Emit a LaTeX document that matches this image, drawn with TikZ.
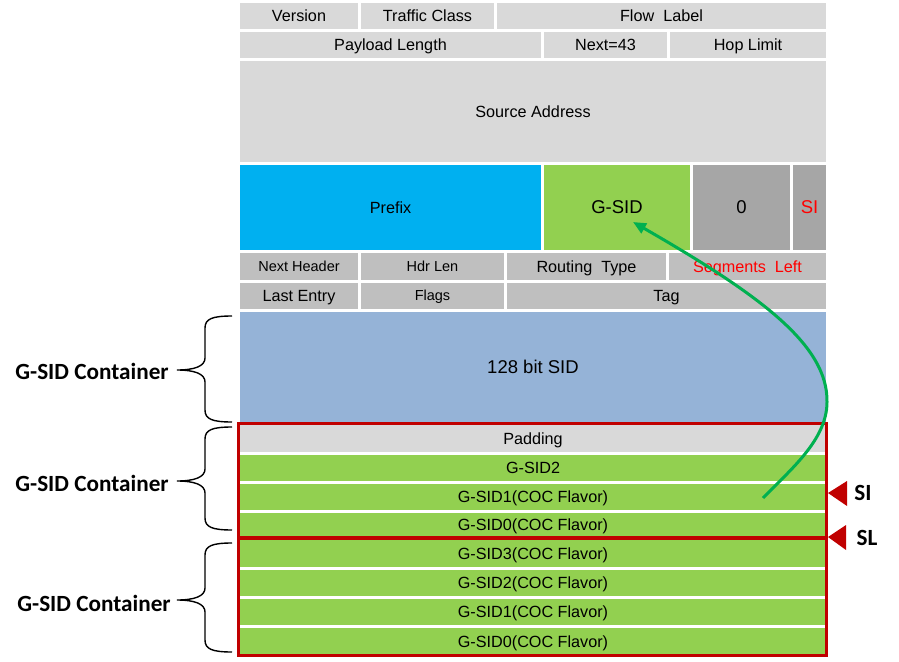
\documentclass[tikz,border=0pt]{standalone}
\usepackage{fontspec}
\setmainfont{Liberation Sans}
\newfontfamily\labelfont{Carlito}
\usetikzlibrary{arrows.meta}
\definecolor{grayA}{HTML}{D9D9D9}
\definecolor{grayB}{HTML}{BFBFBF}
\definecolor{grayC}{HTML}{A6A6A6}
\definecolor{cyanA}{HTML}{00B0F0}
\definecolor{greenA}{HTML}{92D050}
\definecolor{blueA}{HTML}{95B3D7}
\definecolor{redA}{HTML}{C00000}
\definecolor{redT}{HTML}{FF0000}
\definecolor{arrowG}{HTML}{00B050}
\tikzset{
  cellbg/.style={draw=white, line width=3pt},
  ct/.style={inner sep=0pt, font=\fontsize{16.2}{19}\selectfont, text height=11.6pt, text depth=0pt},
  ctbig/.style={font=\fontsize{18.5}{22}\selectfont, text height=13.3pt},
  ctsmall/.style={font=\fontsize{14.5}{17}\selectfont, text height=10.4pt},
  redbox/.style={draw=redA, line width=3.2pt},
  bracestyle/.style={draw=black, line width=1.4pt},
  glabel/.style={inner sep=0pt, font=\labelfont\bfseries\fontsize{23.2}{27}\selectfont},
  marker/.style={fill=redA},
  arrowline/.style={draw=arrowG, line width=3pt, -{Triangle[length=13pt,width=11pt]}},
}
\newcommand{\mycell}[8]{%
  \filldraw[cellbg, fill=#6] (#2,#3) rectangle (#4,#5);
  \node[ct, #7] (#1) at ({(#2+#4)/2},{(#3+#5)/2}) {#8};}
\newcommand{\mybrace}[3]{%
  \draw[bracestyle] (232,#1) .. controls (212,#1) and (205,{#1+3}) .. (205,{#1+12})
    -- (205,{#2-12}) .. controls (205,{#2-4}) and (195,#2) .. (177,#2)
    .. controls (195,#2) and (205,{#2+4}) .. (205,{#2+12})
    -- (205,{#3-12}) .. controls (205,{#3-3}) and (212,#3) .. (232,#3);}
\begin{document}
\begin{tikzpicture}[x=1pt,y=-1pt]
\useasboundingbox (0,0) rectangle (899,661);
% IPv6 header
\mycell{ver}{238.5}{1.5}{359.5}{30.5}{grayA}{}{Version}
\mycell{tc}{359.5}{1.5}{495.5}{30.5}{grayA}{}{Traffic Class}
\mycell{fl}{495.5}{1.5}{827.5}{30.5}{grayA}{}{Flow\ \ Label}
\mycell{pl}{238.5}{30.5}{542.5}{59.5}{grayA}{}{Payload Length}
\mycell{nx}{542.5}{30.5}{668.5}{59.5}{grayA}{}{Next=43}
\mycell{hl}{668.5}{30.5}{827.5}{59.5}{grayA}{}{Hop Limit}
\mycell{src}{238.5}{59.5}{827.5}{163}{grayA}{}{Source Address}
% destination address
\mycell{prefix}{238.5}{163}{542.5}{251.5}{cyanA}{}{Prefix}
\mycell{gsid}{542.5}{163}{691.5}{251.5}{greenA}{ctbig}{G-SID}
\mycell{zero}{691.5}{163}{791.5}{251.5}{grayC}{ctbig}{0}
\mycell{si}{791.5}{163}{827.5}{251.5}{grayC}{ctbig, text=redT}{SI}
% SRH
\mycell{nh}{238.5}{251.5}{359.5}{281}{grayB}{ctsmall}{Next Header}
\mycell{hdr}{359.5}{251.5}{505.5}{281}{grayB}{ctsmall}{Hdr Len}
\mycell{rt}{505.5}{251.5}{667.5}{281}{grayB}{}{Routing\ \ Type}
\mycell{sl}{667.5}{251.5}{827.5}{281}{grayB}{text=redT}{Segments\ \ Left}
\mycell{le}{238.5}{281}{359.5}{310.5}{grayB}{}{Last Entry}
\mycell{flags}{359.5}{281}{505.5}{310.5}{grayB}{ctsmall}{Flags}
\mycell{tag}{505.5}{281}{827.5}{310.5}{grayB}{}{Tag}
\mycell{sid}{238.5}{310.5}{827.5}{423}{blueA}{ctbig}{128 bit SID}
% container 2
\mycell{pad}{238.5}{423}{827.5}{453.5}{grayA}{}{Padding}
\mycell{a2}{238.5}{453.5}{827.5}{482.5}{greenA}{}{G-SID2}
\mycell{a1}{238.5}{482.5}{827.5}{511.5}{greenA}{}{G-SID1(COC Flavor)}
\mycell{a0}{238.5}{511.5}{827.5}{538}{greenA}{}{G-SID0(COC Flavor)}
% container 3
\mycell{b3}{238.5}{538}{827.5}{568.5}{greenA}{}{G-SID3(COC Flavor)}
\mycell{b2}{238.5}{568.5}{827.5}{597.5}{greenA}{}{G-SID2(COC Flavor)}
\mycell{b1}{238.5}{597.5}{827.5}{626.5}{greenA}{}{G-SID1(COC Flavor)}
\mycell{b0}{238.5}{626.5}{827.5}{656.5}{greenA}{}{G-SID0(COC Flavor)}
% red boxes
\draw[redbox] (238.5,423.5) rectangle (826.5,538);
\draw[redbox] (238.5,538) rectangle (826.5,655.5);
% braces and labels
\mybrace{316}{370}{422}
\mybrace{427}{481}{530}
\mybrace{543}{600}{652}
\node[glabel] (c1) at (92,371) {G-SID Container};
\node[glabel] (c2) at (92,483) {G-SID Container};
\node[glabel] (c3) at (94,603) {G-SID Container};
% SI / SL markers
\fill[marker] (828,493) -- (847,481) -- (847,506) -- cycle;
\fill[marker] (828,537) -- (846,525) -- (846,550) -- cycle;
\node[glabel] (silab) at (863,493) {SI};
\node[glabel] (sllab) at (867,538) {SL};
% green arrow
\coordinate (arrS) at (763,498);
\coordinate (arrM) at (827,402);
\coordinate (arrE) at (633,222);
\draw[arrowline] (arrS) .. controls (790,470) and (827,440) .. (arrM)
  .. controls (828,345) and (760,295) .. (arrE);
\end{tikzpicture}
\end{document}
